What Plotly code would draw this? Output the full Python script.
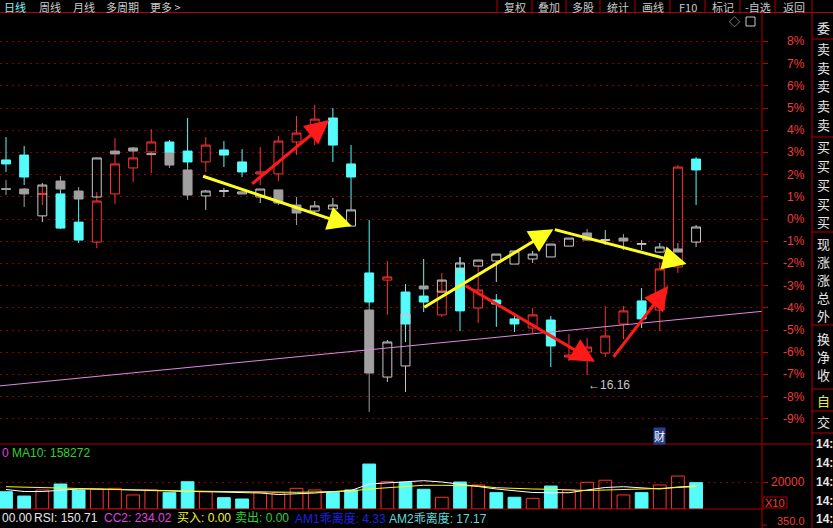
import plotly.graph_objects as go

# ---------------- data ----------------
idx = list(range(39))

# main stock (percent change axis)
m_open  = [2.66, 2.88, 1.11, 1.13, -0.14, -1.04, 1.13, 2.30, 3.02, 3.47, 3.06, 2.57, 3.11, 2.57, 2.03, 2.03, 3.47, 4.10, 4.55, 2.48,
           -2.43, -2.75, -3.29, -3.47, -4.32, -2.21, -4.01, -3.65, -4.50, -4.91, -4.55, -6.22, -5.99, -6.04, -4.73, -3.69, -4.10, -2.16, 2.70]
m_high  = [3.69, 3.29, 1.49, 1.31, 0.90, 1.22, 3.65, 3.24, 4.05, 3.56, 4.55, 3.69, 3.51, 3.15, 3.24, 3.74, 4.64, 5.14, 5.00, 3.33,
           -0.05, -1.89, -2.93, -1.80, -2.43, -1.71, -2.12, -3.38, -4.32, -4.01, -4.37, -5.18, -5.36, -3.92, -3.92, -3.11, -1.94, 2.43, 2.79]
m_low   = [2.12, 1.53, 0.63, -0.45, -1.08, -1.31, 0.68, 1.67, 2.07, 2.88, 2.30, 2.12, 2.34, 1.89, 1.53, 1.71, 2.88, 3.33, 2.57, 0.86,
           -3.92, -4.32, -5.54, -4.19, -4.41, -5.05, -4.69, -4.86, -5.09, -5.14, -6.67, -6.40, -7.03, -6.22, -5.41, -4.91, -5.05, -2.43, 0.63]
m_close = [2.48, 1.89, 1.14, -0.41, -0.95, 0.81, 2.48, 2.75, 3.47, 2.97, 2.57, 3.33, 2.88, 2.12, 2.12, 3.51, 3.87, 4.50, 3.33, 1.89,
           -3.74, -2.61, -4.73, -3.74, -3.24, -4.14, -3.20, -3.83, -4.73, -4.32, -5.72, -6.13, -5.77, -5.27, -4.14, -4.50, -2.25, 2.34, 2.21]

# overlaid stock (叠加)
o_open  = [1.37, 1.35, 0.14, 1.71, 1.26, 0.99, 3.06, 3.20, 2.95, 2.97, 2.21, 1.04, 1.24, 1.13, 0.99, 1.31, 0.63, 0.36, 0.45, -0.32,
           -4.10, -7.12, -6.62, -3.02, -3.29, -2.30, -2.12, -1.89, -2.03, -1.80, -1.71, -1.22, -0.63, -0.97, -0.86, -1.14, -1.49, -1.35, -1.04]
o_high  = [1.76, 1.40, 1.62, 1.94, 1.44, 2.75, 3.06, 3.24, 2.95, 2.97, 2.43, 1.31, 1.40, 1.22, 1.35, 1.31, 0.99, 0.81, 0.95, 0.86,
           -3.92, -5.45, -4.28, -3.02, -2.75, -1.71, -1.85, -1.58, -1.44, -1.44, -1.13, -0.86, -0.45, -0.50, -0.68, -0.95, -1.08, -1.08, -0.27]
o_low   = [1.08, 0.54, -0.14, 1.31, 0.90, 0.99, 2.93, 3.06, 2.90, 2.30, 0.86, 0.41, 0.99, 1.13, 0.72, 0.63, -0.27, 0.32, 0.41, -0.32,
           -8.69, -7.34, -7.79, -3.15, -3.29, -2.30, -2.12, -2.84, -2.03, -1.98, -1.71, -1.22, -0.99, -1.17, -1.40, -1.40, -1.53, -1.49, -1.26]
o_close = [1.33, 1.13, 1.53, 1.35, 0.90, 2.75, 2.93, 3.06, 2.90, 2.43, 1.08, 1.26, 1.28, 1.22, 1.35, 0.72, 0.27, 0.59, 0.63, 0.41,
           -6.94, -5.54, -4.28, -3.15, -2.75, -1.98, -1.85, -1.58, -1.44, -1.58, -1.13, -0.86, -0.95, -0.93, -0.99, -1.11, -1.26, -1.49, -0.36]

# volume (display units, x10)
volume = [12800, 9600, 14100, 18500, 14100, 14600, 15300, 10400, 14100, 12100, 20200, 12800, 8400, 7400, 12400, 12100, 15300, 14100, 12400, 14100,
          33300, 20200, 19800, 14600, 8700, 20000, 17800, 12100, 8700, 7900, 17000, 14100, 19800, 21300, 10400, 12100, 17800, 24400, 19500]
vol_ma5 = [14440, 12960, 12960, 14070, 14820, 14820, 14440, 13560, 13330, 12820, 12960, 12820, 12590, 12070, 11850, 10740, 11110, 11850, 12820, 13700,
           18520, 19260, 20000, 20960, 20000, 18520, 16670, 14820, 13330, 12220, 12070, 12070, 14070, 15930, 16520, 15560, 14820, 16300, 17040]
vol_ma10 = [16520, 16300, 15930, 15560, 15190, 14820, 14440, 14070, 14070, 13700, 13330, 13110, 12960, 12590, 12370, 12370, 12370, 12590, 12960, 13330,
            14820, 15560, 16300, 17560, 17560, 17410, 17040, 15780, 15190, 14820, 14590, 14070, 13700, 14070, 14440, 14590, 15190, 15930, 16520]

pct_ticks = [8, 7, 6, 5, 4, 3, 2, 1, 0, -1, -2, -3, -4, -5, -6, -7, -8, -9]
vol_ticks = [20000]

# user-drawn trend line (candle index, percent)
trend_x = [-1, 42]
trend_y = [-7.57, -4.13]

# user-drawn arrows: (tail_x, tail_y, head_x, head_y, colour)
arrows = [
    (10.77, 1.95, 19.04, -0.32, "#FFFF1E"),
    (13.47, 1.53, 17.79, 4.46, "#FF1A1A"),
    (22.95, -4.02, 30.14, -0.46, "#FFFF1E"),
    (30.14, -0.46, 37.48, -2.03, "#FFFF1E"),
    (25.22, -2.97, 32.43, -6.43, "#FF1A1A"),
    (33.39, -6.28, 36.47, -3.02, "#FF1A1A"),
]
low_label = "←16.16"
low_index = 32

top_left_tabs = ["日线", "周线", "月线", "多周期", "更多 >"]
top_right_tabs = ["复权", "叠加", "多股", "统计", "画线", "F10", "标记", "-自选", "返回"]
side_chars = ["委", "卖", "卖", "卖", "卖", "卖", "买", "买", "买", "买", "买", "现", "涨", "涨", "总", "外", "换", "净", "收", "自", "交"]

# ---------------- layout helpers ----------------
W, H = 833, 528
PW = 762.0
def px(x):
    return x / PW
def py(y):
    return 1 - y / H

FONT = "Liberation Sans, Arial, Noto Sans CJK SC, sans-serif"
CJK = "Noto Sans CJK SC, sans-serif"
RED = "#B00000"
LBL = "#F03C3C"

x0 = -6 / 18.16
x1 = x0 + PW / 18.16

fig = go.Figure()

# trend line
fig.add_trace(go.Scatter(x=trend_x, y=trend_y, mode="lines",
                         line=dict(color="#E088E0", width=1), yaxis="y", hoverinfo="skip"))

# main candles
fig.add_trace(go.Candlestick(
    x=idx, open=m_open, high=m_high, low=m_low, close=m_close, yaxis="y",
    increasing=dict(line=dict(color="#FF3232", width=1), fillcolor="rgba(0,0,0,0)"),
    decreasing=dict(line=dict(color="#54FCFC", width=1), fillcolor="#54FCFC"),
    whiskerwidth=0, hoverinfo="skip"))

# overlay candles
fig.add_trace(go.Candlestick(
    x=idx, open=o_open, high=o_high, low=o_low, close=o_close, yaxis="y",
    increasing=dict(line=dict(color="#C8C8C8", width=1), fillcolor="rgba(0,0,0,0)"),
    decreasing=dict(line=dict(color="#A0A0A0", width=1), fillcolor="#A0A0A0"),
    whiskerwidth=0, hoverinfo="skip"))

# volume bars
up = [c >= o for o, c in zip(m_open, m_close)]
fig.add_trace(go.Bar(
    x=idx, y=volume, yaxis="y2", width=0.7,
    marker=dict(color=["rgba(0,0,0,0)" if u else "#54FCFC" for u in up],
                line=dict(color=["#FF3232" if u else "#54FCFC" for u in up], width=1)),
    hoverinfo="skip"))
fig.add_trace(go.Scatter(x=idx, y=vol_ma5, yaxis="y2", mode="lines",
                         line=dict(color="#FFFFFF", width=1), hoverinfo="skip"))
fig.add_trace(go.Scatter(x=idx, y=vol_ma10, yaxis="y2", mode="lines",
                         line=dict(color="#FFFF00", width=1), hoverinfo="skip"))

ann = []
# percent labels
for v in pct_ticks:
    ann.append(dict(x=px(807), xref="paper", y=v, yref="y", text=f"{v}%", showarrow=False,
                    xanchor="right", yanchor="middle", font=dict(family=FONT, size=12, color=LBL)))
for v in vol_ticks:
    ann.append(dict(x=px(807), xref="paper", y=v, yref="y2", text=f"{v}", showarrow=False,
                    xanchor="right", yanchor="middle", font=dict(family=FONT, size=12, color=LBL)))
ann.append(dict(x=px(807), xref="paper", y=py(521), yref="paper", text="350.0", showarrow=False,
                xanchor="right", yanchor="middle", font=dict(family=FONT, size=11, color=LBL)))
ann.append(dict(x=px(775), xref="paper", y=py(503), yref="paper", text="X10", showarrow=False,
                xanchor="center", yanchor="middle", font=dict(family=FONT, size=11, color=LBL)))

# arrows
for tx, ty, hx, hy, col in arrows:
    ann.append(dict(x=hx, y=hy, xref="x", yref="y", ax=tx, ay=ty, axref="x", ayref="y",
                    text="", showarrow=True, arrowhead=2, arrowsize=1.6, arrowwidth=3,
                    arrowcolor=col, standoff=0, startstandoff=0))

# low label
ann.append(dict(x=low_index, y=m_low[low_index], xref="x", yref="y", text=low_label, showarrow=False,
                xanchor="left", yanchor="top", xshift=-1, yshift=-1,
                font=dict(family=FONT, size=12, color="#C8C8C8")))
# event marker
ann.append(dict(x=36, xref="x", y=py(436), yref="paper", text="财", showarrow=False,
                xanchor="center", yanchor="middle", bgcolor="#2B3F8F", borderpad=0,
                font=dict(family=CJK, size=11, color="#FFFFFF")))

# toolbar texts
left_centers = [15, 50, 83.5, 122.5, 165.5]
for t, cx in zip(top_left_tabs, left_centers):
    ann.append(dict(x=px(cx), y=py(6.5), xref="paper", yref="paper", text=t, showarrow=False,
                    xanchor="center", yanchor="middle",
                    font=dict(family=CJK, size=11, color="#7FF4F4" if t == "日线" else "#C8C8C8")))
seps = [497, 532, 566, 600, 635, 670, 705, 740, 775, 812]
for t, a, b in zip(top_right_tabs, seps[:-1], seps[1:]):
    ann.append(dict(x=px((a + b) / 2), y=py(6.5), xref="paper", yref="paper", text=t, showarrow=False,
                    xanchor="center", yanchor="middle", font=dict(family=CJK, size=11, color="#C8C8C8")))
ann.append(dict(x=px(734), y=py(22), xref="paper", yref="paper", text="◇", showarrow=False,
                xanchor="center", yanchor="middle", font=dict(family=FONT, size=11, color="#C8C8C8")))

# side panel
side_y = [27, 48, 67, 86, 105, 124, 146, 165, 184, 203, 222, 243, 261, 279, 297, 315, 338, 356, 374, 400, 421]
for t, yy in zip(side_chars, side_y):
    ann.append(dict(x=px(815), y=py(yy), xref="paper", yref="paper", text=t, showarrow=False,
                    xanchor="left", yanchor="middle",
                    font=dict(family=CJK, size=13, color="#E8E840" if t == "自" else "#E6E6E6")))
for yy in [444, 463, 482, 501, 519]:
    ann.append(dict(x=px(814), y=py(yy), xref="paper", yref="paper", text="<b>14:</b>", showarrow=False,
                    xanchor="left", yanchor="middle", font=dict(family=FONT, size=12, color="#E6E6E6")))

# indicator texts
ann.append(dict(x=px(0), y=py(453), xref="paper", yref="paper", text="0", showarrow=False,
                xanchor="left", yanchor="middle", font=dict(family=FONT, size=12, color="#E040E0")))
ann.append(dict(x=px(10), y=py(453), xref="paper", yref="paper", text="MA10: 158272", showarrow=False,
                xanchor="left", yanchor="middle", font=dict(family=FONT, size=12, color="#30D030")))
bottom = [("00.00", 0, "#E6E6E6"), ("RSI: 150.71", 32, "#E6E6E6"),
          ("CC2: 234.02", 102, "#E040E0"), ("买入: 0.00", 175, "#F0F030"),
          ("卖出: 0.00", 233, "#30D030"), ("AM1乖离度: 4.33", 293, "#2020E0"),
          ("AM2乖离度: 17.17", 387, "#60D8D8")]
for t, xx, col in bottom:
    ann.append(dict(x=px(xx), y=py(518), xref="paper", yref="paper", text=t, showarrow=False,
                    xanchor="left", yanchor="middle", font=dict(family=FONT, size=12, color=col)))

shapes = []
def hline(y, xa, xb, color=RED):
    shapes.append(dict(type="line", xref="paper", yref="paper", x0=px(xa), x1=px(xb), y0=py(y), y1=py(y),
                       line=dict(color=color, width=1)))
def vline(x, ya, yb, color=RED):
    shapes.append(dict(type="line", xref="paper", yref="paper", x0=px(x), x1=px(x), y0=py(ya), y1=py(yb),
                       line=dict(color=color, width=1)))
hline(12.5, 0, 833)
hline(444, 0, 812)
hline(509, 0, 762)
vline(762, 12.5, 528)
vline(812, 0, 528)
for s in seps[:-1]:
    vline(s, 0, 12.5)
for yy in [39, 137, 232, 325, 389, 411, 433]:
    hline(yy, 812, 833)
hline(525, 762, 767, "#C00000")
shapes.append(dict(type="rect", xref="paper", yref="paper", x0=px(763), x1=px(787), y0=py(508), y1=py(497),
                   line=dict(color=RED, width=1)))
shapes.append(dict(type="rect", xref="paper", yref="paper", x0=px(746), x1=px(755), y0=py(26), y1=py(17),
                   line=dict(color="#C8C8C8", width=1)))

fig.update_layout(
    width=W, height=H, margin=dict(l=0, r=W - 762, t=0, b=0),
    paper_bgcolor="#000000", plot_bgcolor="#000000",
    showlegend=False, hovermode=False, barmode="overlay",
    xaxis=dict(range=[x0, x1], showticklabels=False, showgrid=False, zeroline=False, showline=False,
               ticks="", rangeslider=dict(visible=False), anchor="y2", fixedrange=True),
    yaxis=dict(domain=[py(444), py(12.5)], range=[(219 - 444) / 22.2, (219 - 12.5) / 22.2],
               side="right", tickvals=pct_ticks, showticklabels=False, ticks="outside", ticklen=5,
               tickcolor="#C00000", showgrid=True, gridcolor="#8B0000", griddash="2px,4px",
               zeroline=False, showline=False, fixedrange=True),
    yaxis2=dict(domain=[py(509), py(444)], range=[0, (509 - 444) / 27 * 20000],
                side="right", tickvals=vol_ticks, showticklabels=False, ticks="outside", ticklen=5,
                tickcolor="#C00000", showgrid=True, gridcolor="#8B0000", griddash="2px,4px",
                zeroline=False, showline=False, fixedrange=True),
    annotations=ann, shapes=shapes,
)

fig.write_html("out.html", config={"displayModeBar": False},
               post_script="document.body.style.margin='0';document.body.style.background='#000';")
